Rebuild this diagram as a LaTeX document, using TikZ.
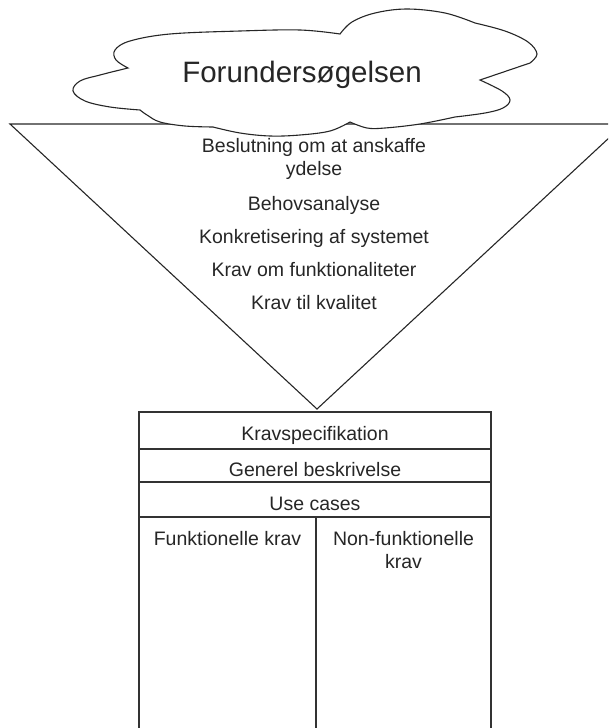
\documentclass[tikz,border=0pt]{standalone}
\usepackage{fontspec}
\setmainfont{Liberation Sans}
\begin{document}
\begin{tikzpicture}[x=1pt,y=-1pt,
  lbl/.style={font=\fontsize{19.5}{23}\selectfont, inner sep=0pt, align=center, text=black!85, anchor=base},
  title/.style={font=\fontsize{29.5}{32}\selectfont, inner sep=0pt, text=black!85, anchor=base},
  funnel/.style={draw=black!85, line width=1.1pt, line join=miter},
  cloudline/.style={draw=black!85, line width=1.1pt, fill=white},
  boxline/.style={draw=black!80, line width=1.5pt}]
\useasboundingbox (0,0) rectangle (608,728);
\begin{scope}
\clip (0,0) rectangle (608,728);
% funnel (inverted triangle)
\draw[funnel] (10,124) -- (624,124) -- (317,409) -- cycle;
% cloud
\path[cloudline]
  plot[smooth, tension=0.6] coordinates {(128,68) (116,60) (115,50) (130,41) (170,34) (240,31) (300,30) (340,34)}
  -- plot[smooth, tension=0.6] coordinates {(340,34) (352,22) (375,13) (407,9) (445,13) (475,23)}
  -- plot[smooth, tension=0.6] coordinates {(475,23) (505,31) (528,42) (537,54) (530,63)}
  -- (480,80)
  -- plot[smooth, tension=0.6] coordinates {(480,80) (502,91) (510,100) (503,108) (485,113) (455,117)}
  -- plot[smooth, tension=0.6] coordinates {(455,117) (420,124) (385,128) (367,128) (350,122)}
  -- plot[smooth, tension=0.6] coordinates {(350,122) (330,131) (300,135) (270,136) (240,133) (213,127)}
  -- plot[smooth, tension=0.6] coordinates {(213,127) (185,126) (160,122) (147,115) (140,110)}
  -- plot[smooth, tension=0.6] coordinates {(140,110) (110,107) (85,101) (73,91) (80,81) (100,75) (128,68)}
  -- cycle;
% specification box
\draw[boxline] (139,740) -- (139,412) -- (491,412) -- (491,740);
\draw[boxline] (139,449) -- (491,449);
\draw[boxline] (139,482) -- (491,482);
\draw[boxline] (139,517) -- (491,517);
\draw[boxline] (316,517) -- (316,740);
\end{scope}
% texts
\node[title] (forund) at (302,82) {Forundersøgelsen};
\node[lbl] (beslut) at (314,175) {Beslutning om at anskaffe\\ydelse};
\node[lbl] (behov) at (314,210) {Behovsanalyse};
\node[lbl] (konkr) at (314,243) {Konkretisering af systemet};
\node[lbl] (kravfunk) at (314,276) {Krav om funktionaliteter};
\node[lbl] (kravkval) at (314,309) {Krav til kvalitet};
\node[lbl] (kravspec) at (315,440) {Kravspecifikation};
\node[lbl] (generel) at (315,476) {Generel beskrivelse};
\node[lbl] (usecases) at (315,510) {Use cases};
\node[lbl] (funk) at (227.5,545) {Funktionelle krav};
\node[lbl] (nonfunk) at (403.5,568) {Non-funktionelle\\krav};
\end{tikzpicture}
\end{document}
